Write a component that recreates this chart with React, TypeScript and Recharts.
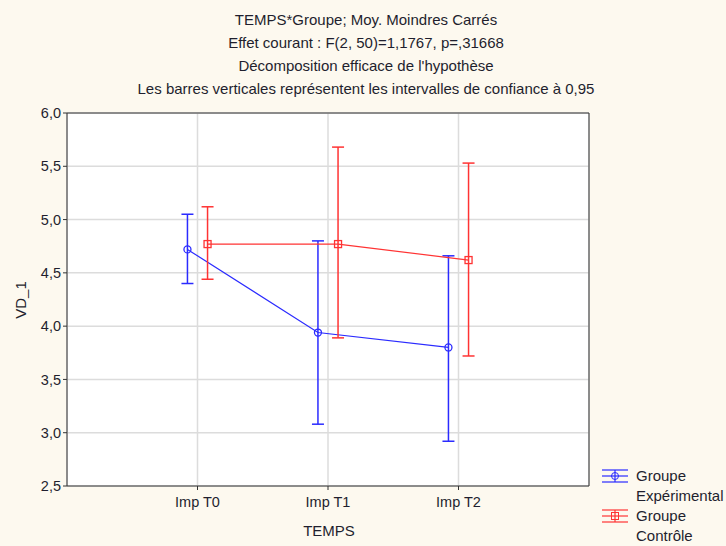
import {
  ComposedChart,
  Line,
  XAxis,
  YAxis,
  CartesianGrid,
  ErrorBar,
  ReferenceLine,
} from "recharts";

const categories = ["Imp T0", "Imp T1", "Imp T2"];
const yTicks = [2.5, 3.0, 3.5, 4.0, 4.5, 5.0, 5.5, 6.0];

// Groupe Expérimental
const expMean = [4.72, 3.94, 3.8];
const expLow = [4.4, 3.08, 2.92];
const expHigh = [5.05, 4.8, 4.66];

// Groupe Contrôle
const ctlMean = [4.77, 4.77, 4.62];
const ctlLow = [4.44, 3.89, 3.72];
const ctlHigh = [5.12, 5.68, 5.53];

const titleLines = [
  "TEMPS*Groupe; Moy. Moindres Carrés",
  "Effet courant : F(2, 50)=1,1767, p=,31668",
  "Décomposition efficace de l'hypothèse",
  "Les barres verticales représentent les intervalles de confiance à 0,95",
];

const BLUE = "#2b2bff";
const RED = "#ff3333";
const TEXT = "#1f1f2e";
const FONT = "'Liberation Sans', Arial, sans-serif";

const shift = 0.077;

const build = (mean: number[], low: number[], high: number[], dx: number) =>
  mean.map((m, i) => ({
    x: i + 1 + dx,
    y: m,
    err: [m - low[i], high[i] - m],
  }));

const expData = build(expMean, expLow, expHigh, -shift);
const ctlData = build(ctlMean, ctlLow, ctlHigh, shift);

const fmt = (v: number) => v.toFixed(1).replace(".", ",");

function LegendSymbol({ color, square }: { color: string; square?: boolean }) {
  return (
    <svg width={28} height={18} style={{ display: "block" }}>
      <line x1={1} y1={3} x2={27} y2={3} stroke={color} strokeWidth={1.2} />
      <line x1={1} y1={9} x2={27} y2={9} stroke={color} strokeWidth={1.2} />
      <line x1={1} y1={15} x2={27} y2={15} stroke={color} strokeWidth={1.2} />
      <line x1={14} y1={3} x2={14} y2={15} stroke={color} strokeWidth={1.2} />
      {square ? (
        <rect x={10.5} y={5.5} width={7} height={7} fill="none" stroke={color} />
      ) : (
        <circle cx={14} cy={9} r={3.5} fill="none" stroke={color} />
      )}
    </svg>
  );
}

export default function App() {
  return (
    <div
      style={{
        position: "fixed",
        left: 0,
        top: 0,
        width: 726,
        height: 546,
        background: "#fdf9ef",
        fontFamily: FONT,
        color: TEXT,
      }}
    >
      {titleLines.map((t, i) => (
        <div
          key={t}
          style={{
            position: "absolute",
            left: 0,
            width: 732,
            top: 11 + i * 23,
            textAlign: "center",
            fontSize: 15,
          }}
        >
          {t}
        </div>
      ))}
      <ComposedChart
        width={726}
        height={546}
        margin={{ top: 113, right: 137, bottom: 30, left: 17 }}
        style={{ position: "absolute", left: 0, top: 0 }}
      >
        <CartesianGrid fill="#ffffff" stroke="#dcdcdc" strokeWidth={1.5} />
        <XAxis
          type="number"
          dataKey="x"
          domain={[0, 4]}
          ticks={[1, 2, 3]}
          tickFormatter={(v: number) => categories[v - 1]}
          stroke="#333"
          tickSize={4}
          height={30}
          tick={{ fill: TEXT, fontSize: 14.5, fontFamily: FONT, dy: 5 }}
          allowDuplicatedCategory={false}
        />
        <YAxis
          type="number"
          domain={[2.5, 6]}
          ticks={yTicks}
          tickFormatter={fmt}
          stroke="#333"
          tickSize={4}
          width={50}
          tick={{ fill: TEXT, fontSize: 14.5, fontFamily: FONT }}
          interval={0}
        />
        <ReferenceLine y={6} stroke="#333" />
        <ReferenceLine x={4} stroke="#333" />
        <Line
          data={expData}
          dataKey="y"
          stroke={BLUE}
          strokeWidth={1.2}
          isAnimationActive={false}
          dot={(p: any) => (
            <circle
              key={`e${p.index}`}
              cx={p.cx}
              cy={p.cy}
              r={3.5}
              fill="none"
              stroke={BLUE}
              strokeWidth={1.3}
            />
          )}
        >
          <ErrorBar dataKey="err" direction="y" width={6} stroke={BLUE} strokeWidth={1.5} />
        </Line>
        <Line
          data={ctlData}
          dataKey="y"
          stroke={RED}
          strokeWidth={1.2}
          isAnimationActive={false}
          dot={(p: any) => (
            <rect
              key={`c${p.index}`}
              x={p.cx - 3.5}
              y={p.cy - 3.5}
              width={7}
              height={7}
              fill="none"
              stroke={RED}
              strokeWidth={1.3}
            />
          )}
        >
          <ErrorBar dataKey="err" direction="y" width={6} stroke={RED} strokeWidth={1.5} />
        </Line>
      </ComposedChart>
      <div
        style={{
          position: "absolute",
          left: 10,
          top: 300,
          transform: "translate(-50%, -50%) rotate(-90deg)",
          transformOrigin: "center",
          fontSize: 15,
          marginLeft: 10,
        }}
      >
        VD_1
      </div>
      <div
        style={{
          position: "absolute",
          left: 229,
          width: 200,
          top: 522,
          textAlign: "center",
          fontSize: 15,
        }}
      >
        TEMPS
      </div>
      <div style={{ position: "absolute", left: 601, top: 466, fontSize: 15, lineHeight: "20px" }}>
        <div style={{ display: "flex" }}>
          <div style={{ marginTop: 1 }}>
            <LegendSymbol color={BLUE} />
          </div>
          <div style={{ marginLeft: 7 }}>
            Groupe
            <br />
            Expérimental
          </div>
        </div>
        <div style={{ display: "flex" }}>
          <div style={{ marginTop: 1 }}>
            <LegendSymbol color={RED} square />
          </div>
          <div style={{ marginLeft: 7 }}>
            Groupe
            <br />
            Contrôle
          </div>
        </div>
      </div>
    </div>
  );
}
